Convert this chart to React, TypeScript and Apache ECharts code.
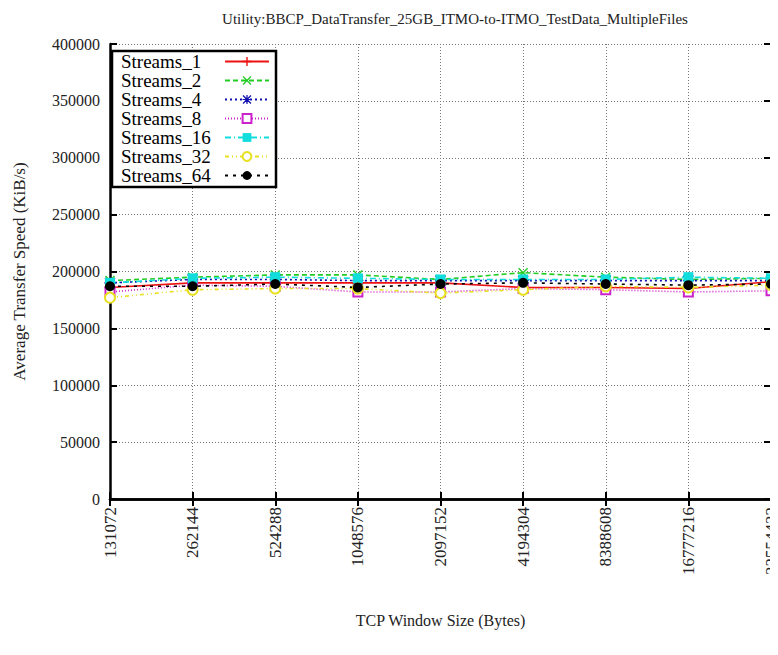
import React, { useEffect, useRef } from "react";
import * as echarts from "echarts";

const categories = ["131072", "262144", "524288", "1048576", "2097152", "4194304", "8388608", "16777216", "33554432"];
const streams1 = [186000, 190000, 190000, 190000, 190000, 186000, 186000, 185000, 191000];
const streams2 = [192000, 195000, 197000, 197000, 193000, 199000, 195000, 193000, 194000];
const streams4 = [190000, 193000, 193000, 192000, 192000, 192000, 192000, 192000, 192000];
const streams8 = [182000, 188000, 187000, 182000, 182000, 185000, 184000, 182000, 183000];
const streams16 = [190000, 194000, 195000, 194000, 193000, 193000, 193000, 195000, 194000];
const streams32 = [177000, 184000, 185000, 185000, 181000, 184000, 187000, 186000, 188000];
const streams64 = [187000, 187000, 189000, 186000, 189000, 190000, 189000, 188000, 189000];
const seriesNames = ["Streams_1", "Streams_2", "Streams_4", "Streams_8", "Streams_16", "Streams_32", "Streams_64"];
const yTicks = { min: 0, max: 400000, interval: 50000 };

const FONT = "Liberation Serif, DejaVu Serif, serif";

const PLUS = "path://M4.2,0h1.6v4.2h4.2v1.6h-4.2v4.2h-1.6v-4.2h-4.2v-1.6h4.2z";
const CROSS = "path://M1,0L5,4L9,0L10,1L6,5L10,9L9,10L5,6L1,10L0,9L4,5L0,1z";
const STAR = "path://M4.3,0h1.4v4.3h4.3v1.4h-4.3v4.3h-1.4v-4.3h-4.3v-1.4h4.3z M1,0L5,4L9,0L10,1L6,5L10,9L9,10L5,6L1,10L0,9L4,5L0,1z";

export default function App() {
  const ref = useRef<HTMLDivElement>(null);
  useEffect(() => {
    if (!ref.current) return;
    const chart = echarts.init(ref.current, undefined, { renderer: "svg" });
    const mk = (name: string, data: number[], color: string, dash: any, symbol: string, hollow: boolean, size: number) => ({
      name,
      type: "line",
      data,
      xAxisIndex: 0,
      yAxisIndex: 0,
      symbol,
      symbolSize: size,
      showSymbol: true,
      lineStyle: { color, width: 1.6, type: dash },
      itemStyle: hollow
        ? { color: "#ffffff", borderColor: color, borderWidth: 2 }
        : { color, borderWidth: 0 },
      z: 5,
    });
    const series = [
      mk(seriesNames[0], streams1, "#ee1111", "solid", PLUS, false, 11),
      mk(seriesNames[1], streams2, "#22cc22", [5, 3], CROSS, false, 10),
      mk(seriesNames[2], streams4, "#1010b0", [2, 3], STAR, false, 11),
      mk(seriesNames[3], streams8, "#cc22cc", [1, 2], "rect", true, 9),
      mk(seriesNames[4], streams16, "#11dddd", [6, 3, 1, 3], "rect", false, 10),
      mk(seriesNames[5], streams32, "#e8e020", [4, 3, 1, 3, 1, 3], "circle", true, 10),
      mk(seriesNames[6], streams64, "#000000", [3, 5], "circle", false, 10),
    ];
    const axisLine = { show: true, lineStyle: { color: "#000", width: 2.5 } };
    const axisTick = { show: true, inside: true, length: 7, lineStyle: { color: "#000", width: 2 } };
    chart.setOption({
      animation: false,
      backgroundColor: "#ffffff",
      title: {
        text: "Utility:BBCP_DataTransfer_25GB_ITMO-to-ITMO_TestData_MultipleFiles",
        left: 450,
        textAlign: "center",
        top: 6,
        textStyle: { fontFamily: FONT, fontSize: 15, fontWeight: "normal", color: "#222" },
      },
      grid: { left: 110, right: 7, top: 44, bottom: 156, containLabel: false, outerBoundsMode: "none" },
      legend: {
        data: seriesNames,
        orient: "vertical",
        left: 116,
        top: 47,
        align: "right",
        itemWidth: 44,
        itemHeight: 11,
        itemGap: 0,
        selectedMode: false,
        formatter: (name: string) => `{a|${name}}`,
        textStyle: {
          fontFamily: FONT,
          fontSize: 19,
          color: "#000",
          lineHeight: 17,
          rich: {
            a: { fontFamily: FONT, fontSize: 19, color: "#000", lineHeight: 17, width: 99, align: "left" },
          },
        },
        z: 10,
      },
      graphic: [
        {
          type: "rect",
          shape: { x: 112, y: 51, width: 164, height: 136 },
          style: { fill: "#ffffff", stroke: "#000", lineWidth: 2.5 },
          z: 3,
        },
      ],
      xAxis: [
        {
          type: "category",
          data: categories,
          boundaryGap: false,
          position: "bottom",
          name: "TCP Window Size (Bytes)",
          nameLocation: "middle",
          nameGap: 113,
          nameTextStyle: { fontFamily: FONT, fontSize: 16, color: "#222" },
          axisLine,
          axisTick: { ...axisTick, alignWithLabel: true },
          axisLabel: { rotate: 90, fontFamily: FONT, fontSize: 17, color: "#222", margin: 8, interval: 0 },
          splitLine: { show: true, lineStyle: { color: "#777", type: [1, 2], width: 1 } },
        },
        {
          type: "category",
          data: categories,
          boundaryGap: false,
          position: "top",
          axisLine,
          axisTick,
          axisLabel: { show: false },
          splitLine: { show: false },
        },
      ],
      yAxis: [
        {
          type: "value",
          min: yTicks.min,
          max: yTicks.max,
          interval: yTicks.interval,
          name: "Average Transfer Speed (KiB/s)",
          nameLocation: "middle",
          nameGap: 82,
          nameTextStyle: { fontFamily: FONT, fontSize: 17, color: "#222" },
          axisLine,
          axisTick,
          axisLabel: { fontFamily: FONT, fontSize: 16, color: "#222", margin: 10, formatter: (v: number) => String(v) },
          splitLine: { show: true, lineStyle: { color: "#777", type: [1, 2], width: 1 } },
        },
        {
          type: "value",
          min: yTicks.min,
          max: yTicks.max,
          interval: yTicks.interval,
          position: "right",
          axisLine,
          axisTick,
          axisLabel: { show: false },
          splitLine: { show: false },
        },
      ],
      series,
    });
    return () => chart.dispose();
  }, []);
  return <div ref={ref} style={{ width: 778, height: 655, margin: -8 }} />;
}
